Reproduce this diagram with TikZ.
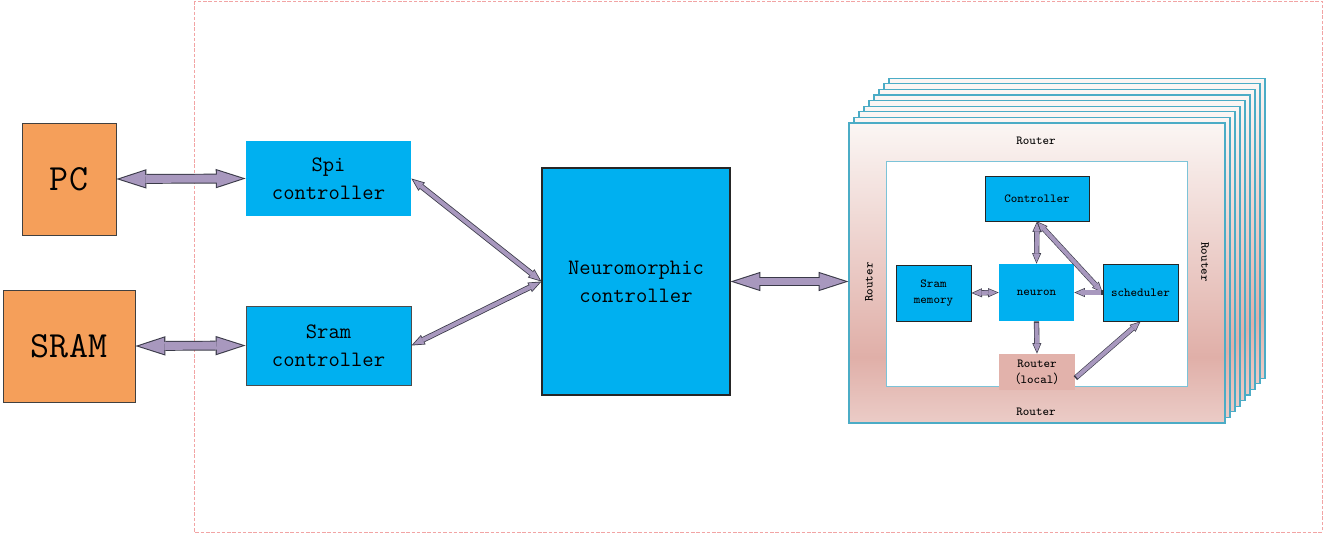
\documentclass[tikz,border=0pt]{standalone}
\usepackage{fontspec}
\newfontfamily\cjk{Noto Sans CJK SC}
\usetikzlibrary{arrows.meta,positioning,calc}

\definecolor{boxcyan}{HTML}{00B0F0}
\definecolor{boxorange}{HTML}{F59F5A}
\definecolor{linkfill}{HTML}{A898BE}
\definecolor{linkedge}{HTML}{3A3A48}
\definecolor{layeredge}{HTML}{4BACC6}
\definecolor{coreedge}{HTML}{7CC3D8}
\definecolor{rtop}{HTML}{FBF6F4}
\definecolor{rmid}{HTML}{E0AFA8}
\definecolor{rbot}{HTML}{EBCCC7}
\definecolor{rlocal}{HTML}{E2B2AB}
\definecolor{pagedash}{HTML}{F2A4A4}

\pgfdeclareverticalshading{routerband}{100bp}{color(0bp)=(rbot); color(25bp)=(rbot); color(36bp)=(rmid); color(75bp)=(rtop); color(100bp)=(rtop)}

\tikzset{
  hostbox/.style={draw=black!75, line width=0.5pt, fill=boxorange, inner sep=0pt,
    font=\fontsize{21}{24}\selectfont\ttfamily},
  blockbox/.style={fill=boxcyan, inner sep=0pt, align=center,
    font=\fontsize{12.5}{16}\selectfont\ttfamily},
  unitbox/.style={fill=boxcyan, inner sep=0pt, align=center,
    font=\fontsize{7}{9}\selectfont\ttfamily},
  layerbox/.style={draw=layeredge, line width=0.6pt, shade, shading=routerband,
    minimum width=7.52cm, minimum height=6cm, inner sep=0pt},
  routertext/.style={font=\fontsize{7}{9}\selectfont\ttfamily, inner sep=0pt},
  pageframe/.style={draw=pagedash, line width=0.5pt, dash pattern=on 2pt off 1pt},
  % fat links: dark outline first, lavender on top
  bigout/.style={line width=5.6pt, draw=linkedge,
    >={Triangle[length=17pt,width=11pt,line width=0pt]}},
  bigin/.style={line width=4.5pt, draw=linkfill, shorten >=1.95pt, shorten <=1.95pt,
    >={Triangle[length=14.45pt,width=9.35pt,line width=0pt]}},
  thinout/.style={line width=3.2pt, draw=linkedge,
    >={Triangle[length=7.5pt,width=6pt,line width=0pt]}},
  thinin/.style={line width=2.3pt, draw=linkfill, shorten >=1.2pt, shorten <=1.2pt,
    >={Triangle[length=5.85pt,width=4.68pt,line width=0pt]}},
  smallout/.style={line width=3pt, draw=linkedge,
    >={Triangle[length=6pt,width=5.2pt,line width=0pt]}},
  smallin/.style={line width=2.3pt, draw=linkfill, shorten >=0.9pt, shorten <=0.9pt,
    >={Triangle[length=4.75pt,width=4.1pt,line width=0pt]}},
}

\begin{document}
\begin{tikzpicture}
  \useasboundingbox[fill=white] (0,0) rectangle (26.5,-10.7);
  \draw[pageframe] (3.88,-0.02) rectangle (26.44,-10.64);

  % hosts and controllers
  \node[hostbox, minimum width=1.88cm, minimum height=2.24cm] (pc) at (1.38,-3.58) {PC};
  \node[hostbox, minimum width=2.64cm, minimum height=2.24cm] (sram) at (1.38,-6.92) {SRAM};
  \node[blockbox, minimum width=3.3cm, minimum height=1.5cm] (spi) at (6.57,-3.57) {Spi\\controller};
  \node[blockbox, draw=black!70, line width=0.5pt, minimum width=3.3cm, minimum height=1.58cm] (sramc) at (6.57,-6.91) {Sram\\controller};
  \node[blockbox, draw=black!85, line width=0.6pt, minimum width=3.76cm, minimum height=4.54cm] (neuro) at (12.72,-5.63) {Neuromorphic\\controller};

  % stacked cores
  \foreach \i in {8,...,1}
    \node[layerbox, xshift=\i*1mm, yshift=\i*1.12mm] at (20.74,-5.46) {};
  \node[layerbox] (chip) at (20.74,-5.46) {};
  \node[draw=coreedge, line width=0.5pt, fill=white, minimum width=6.02cm, minimum height=4.5cm] (core) at (20.73,-5.47) {};

  \node[routertext] (rtop) at (20.72,-2.82) {Router};
  \node[routertext] (rbot) at (20.72,-8.24) {Router};
  \node[routertext, rotate=90] (rleft) at (17.38,-5.64) {Router};
  \node[routertext, rotate=-90] (rright) at (24.1,-5.24) {Router};

  \node[unitbox, draw=black!85, line width=0.5pt, minimum width=2.08cm, minimum height=0.9cm] (ctrl) at (20.74,-3.97) {Controller};
  \node[unitbox, draw=black!85, line width=0.5pt, minimum width=1.5cm, minimum height=1.12cm] (smem) at (18.67,-5.86) {Sram\\memory};
  \node[unitbox, minimum width=1.5cm, minimum height=1.14cm] (neuron) at (20.73,-5.85) {neuron};
  \node[unitbox, draw=black!85, line width=0.5pt, minimum width=1.5cm, minimum height=1.14cm] (sched) at (22.81,-5.85) {scheduler};
  \node[unitbox, fill=rlocal, minimum width=1.52cm, minimum height=0.72cm] (rloc) at (20.74,-7.44) {Router\\{\cjk（}local{\cjk）}};

  % host links
  \draw[bigout,<->] (pc.east) -- (spi.west);
  \draw[bigin,<->] (pc.east) -- (spi.west);
  \draw[bigout,<->] (sram.east) -- (sramc.west);
  \draw[bigin,<->] (sram.east) -- (sramc.west);
  \draw[bigout,<->] (neuro.east) -- (neuro.east -| chip.west);
  \draw[bigin,<->] (neuro.east) -- (neuro.east -| chip.west);

  \draw[thinout,<->] (spi.east) -- (neuro.west);
  \draw[thinin,<->] (spi.east) -- (neuro.west);
  \draw[thinout,<->] (sramc.east) -- (neuro.west);
  \draw[thinin,<->] (sramc.east) -- (neuro.west);

  % inside one core
  \draw[smallout,<->] (smem.east) -- (neuron.west);
  \draw[smallin,<->] (smem.east) -- (neuron.west);
  \draw[smallout,<->] (ctrl.south) -- (neuron.north);
  \draw[smallin,<->] (ctrl.south) -- (neuron.north);
  \draw[smallout,<->] (ctrl.south) -- (sched.west);
  \draw[smallin,<->] (ctrl.south) -- (sched.west);
  \draw[smallout,->] (sched.west) -- (neuron.east);
  \draw[smallin,->] (sched.west) -- (neuron.east);
  \draw[smallout,->] (neuron.south) -- (rloc.north);
  \draw[smallin,->] (neuron.south) -- (rloc.north);
  \draw[smallout,->] (rloc.-9) -- (sched.south);
  \draw[smallin,->] (rloc.-9) -- (sched.south);
\end{tikzpicture}
\end{document}
